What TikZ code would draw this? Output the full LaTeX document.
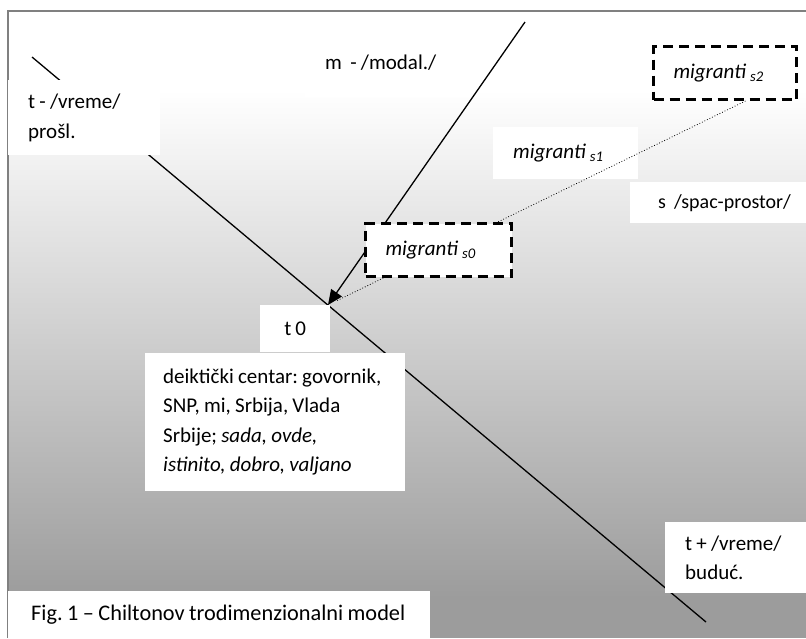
\documentclass[tikz,border=0pt]{standalone}
\usepackage{fontspec}
\setmainfont{Carlito}
\usetikzlibrary{positioning,arrows.meta,calc}

\begin{document}
\frenchspacing
\begin{tikzpicture}[x=1pt,y=-1pt,>={Triangle[length=15pt,width=13pt]},
  txt/.style={font=\fontsize{21}{29.5}\selectfont,execute at begin node={\spaceskip=0.2em\relax}},
  whitebox/.style={txt,fill=white,inner xsep=20pt,inner ysep=0pt,align=left,anchor=north west},
  dashbox/.style={whitebox,draw=black,line width=3pt,dash pattern=on 10pt off 6pt},
  axisline/.style={line width=1.3pt}]
\useasboundingbox (0,0) rectangle (806,638);
% background and frame
\fill[white] (0,0) rectangle (806,638);
\shade[top color=white,bottom color=black!39] (8,90) rectangle (806,600);
\fill[black!39] (8,600) rectangle (806,638);
\draw[black!50,line width=2pt] (8,638) -- (8,11) -- (806,11);

% axes
\coordinate (tpast) at (32,57);
\coordinate (tfut) at (706,622);
\coordinate (mtop) at (525,22);
\coordinate (o) at (328,305);
\draw[axisline] (tpast) -- (tfut);
\draw[axisline,->] (mtop) -- (o);

% spatial positions
\node[dashbox,text width=103pt,minimum height=53pt] (s2) at (652,45) {\textit{migranti \textsubscript{s2}}};
\node[whitebox,text width=105pt,minimum height=52pt] (s1) at (493,127) {\textit{migranti \textsubscript{s1}}};
\draw[dotted,line width=0.8pt,shorten >=9pt] ($(s2.south west)!0.64!(s2.south east)$) -- (o);
\node[dashbox,text width=106pt,minimum height=53pt] (s0) at (364,222) {\textit{migranti \textsubscript{s0}}};

% labels
\node[whitebox,text width=112pt,minimum height=75pt] (tminus) at (8,80) {t - /vreme/\\prošl.};
\node[whitebox,text width=125pt,minimum height=70pt] (modal) at (305,27) {m\hspace{0.4em}- /modal./};
\node[whitebox,font=\fontsize{20}{24}\selectfont,inner xsep=28pt,text width=150pt,minimum height=41pt] (space) at (630,182) {s\hspace{0.4em}/spac-prostor/};
\node[whitebox,align=center,text width=30pt,minimum height=47pt] (t0) at (260,305) {t 0};
\node[whitebox,text width=224pt,inner xsep=18pt,minimum height=138pt] (centar) at (145,353)
  {deiktički centar: govornik,\\SNP, mi, Srbija, Vlada\\Srbije; \textit{sada, ovde,}\\\textit{istinito, dobro, valjano}};
\node[whitebox,text width=110pt,minimum height=71pt] (tplus) at (665,522) {t + /vreme/\\buduć.};
\node[whitebox,font=\fontsize{22.3}{29.5}\selectfont,inner xsep=23pt,text width=376pt,minimum height=47pt] (caption) at (8,591) {Fig. 1 -- Chiltonov trodimenzionalni model};
\end{tikzpicture}
\end{document}
